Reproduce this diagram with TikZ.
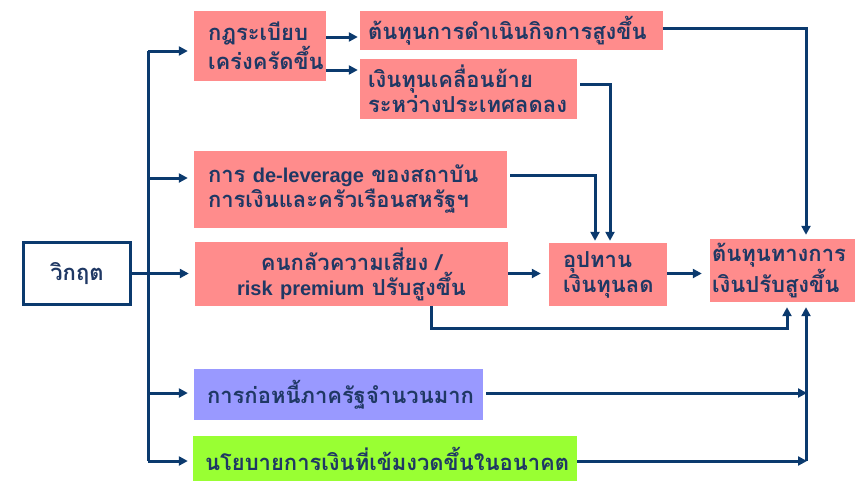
\documentclass[tikz,border=0pt]{standalone}
\usepackage{fontspec}
\usetikzlibrary{arrows.meta}
\newfontfamily\thaifont[Script=Thai]{Loma}
\newfontfamily\latfont{Liberation Sans}
\newcommand\latin[1]{{\latfont\bfseries\fontsize{20}{25}\selectfont #1}}
\definecolor{salmon}{HTML}{FF8C8C}
\definecolor{lav}{HTML}{9999FF}
\definecolor{lime}{HTML}{99FF33}
\definecolor{navy}{HTML}{0B3A6E}
\definecolor{txt}{HTML}{1F3864}
\tikzset{
  pbox/.style={inner ysep=0pt, text=txt, align=left,
    font=\thaifont\bfseries\fontsize{22}{25}\selectfont},
  arr/.style={draw=navy, line width=3pt, -{Triangle[length=9pt,width=9pt]}},
  ln/.style={draw=navy, line width=3pt}
}
\begin{document}
\begin{tikzpicture}[x=1pt,y=-1pt]
\useasboundingbox (0,0) rectangle (859,482);

\node[pbox, draw=navy, line width=3.2pt, fill=white, align=center, text width=107pt, inner xsep=0pt, minimum height=62pt] (c) at (77,273.5) {วิกฤต};

\node[pbox, fill=salmon, text width=104pt, inner xsep=14pt, minimum height=70pt] (b1) at (260,46) {กฎระเบียบ\\เคร่งครัดขึ้น};
\node[pbox, fill=salmon, text width=287pt, inner xsep=8pt, minimum height=39pt] (b2) at (511.5,30.5) {ต้นทุนการดำเนินกิจการสูงขึ้น};
\node[pbox, fill=salmon, text width=201pt, inner xsep=8pt, minimum height=60pt] (b3) at (468.5,89) {เงินทุนเคลื่อนย้าย\\ระหว่างประเทศลดลง};
\node[pbox, fill=salmon, text width=285pt, inner xsep=14pt, minimum height=77pt] (b4) at (350.5,189.5) {การ \latin{de-leverage} ของสถาบัน\\การเงินและครัวเรือนสหรัฐฯ};
\node[pbox, fill=salmon, align=center, text width=305pt, inner xsep=4pt, minimum height=64pt] (b5) at (351.5,274) {คนกลัวความเสี่ยง /\\\latin{risk premium} ปรับสูงขึ้น};
\node[pbox, fill=salmon, text width=90pt, inner xsep=14pt, minimum height=63pt] (b6) at (608,274.5) {อุปทาน\\เงินทุนลด};
\node[pbox, fill=salmon, text width=141pt, inner xsep=2pt, minimum height=63pt] (b7) at (782.5,270.5) {ต้นทุนทางการ\\เงินปรับสูงขึ้น};
\node[pbox, fill=lav, text width=263pt, inner xsep=13pt, minimum height=51pt] (b8) at (338.5,394.5) {การก่อหนี้ภาครัฐจำนวนมาก};
\node[pbox, fill=lime, text width=360pt, inner xsep=12pt, minimum height=45pt] (b9) at (385,458.5) {นโยบายการเงินที่เข้มงวดขึ้นในอนาคต};

% helper coordinates
\coordinate (t1) at (148,51);
\coordinate (t4) at (148,178);
\coordinate (t8) at (148,393);
\coordinate (t9) at (148,461);
\coordinate (colR) at (806,0);
\coordinate (col3) at (610,0);
\coordinate (col4) at (595,0);
\coordinate (loopL) at (431,328);
\coordinate (loopR) at (787,328);
\coordinate (m8) at (806,393);
\coordinate (m9) at (806,461);

% trunk
\draw[ln] (t1) -- (t9);
\draw[arr, shorten >=6pt] (t1) -- (b1.west |- t1);
\draw[arr, shorten >=6pt] (t4) -- (b4.west |- t4);
\draw[arr, shorten >=6pt] (c.east) -- (b5.west |- c.east);
\draw[arr, shorten >=6pt] (t8) -- (b8.west |- t8);
\draw[arr, shorten >=5pt] (t9) -- (b9.west |- t9);

% top
\draw[arr, shorten >=2pt] ([yshift=9pt]b1.east) -- ([yshift=9pt]b1.east -| b2.west);
\draw[arr, shorten >=2pt] ([yshift=-24pt]b1.east) -- ([yshift=-24pt]b1.east -| b3.west);
\draw[arr, shorten >=4pt] ([yshift=2.5pt]b2.east) -| (b7.north -| colR);
\draw[arr, shorten >=2pt] ([yshift=5pt,xshift=3pt]b3.east) -| (b6.north -| col3);
\draw[arr, shorten >=2pt] ([yshift=14.5pt,xshift=3pt]b4.east) -| (b6.north -| col4);

% middle row
\draw[arr, shorten >=8pt] (b5.east |- c.east) -- (b6.west |- c.east);
\draw[arr, shorten >=8pt] (b6.east |- c.east) -- (b7.west |- c.east);
\draw[arr, shorten >=5pt] (b5.south -| loopL) -- (loopL) -- (loopR) -- (b7.south -| loopR);

% bottom
\draw[arr, shorten <=3pt, shorten >=-1pt] (b8.east |- m8) -- (m8);
\draw[arr, shorten >=-1pt] (b9.east |- m9) -- (m9);
\draw[arr, shorten >=5pt] (m9) -- (b7.south -| m9);
\end{tikzpicture}
\end{document}
